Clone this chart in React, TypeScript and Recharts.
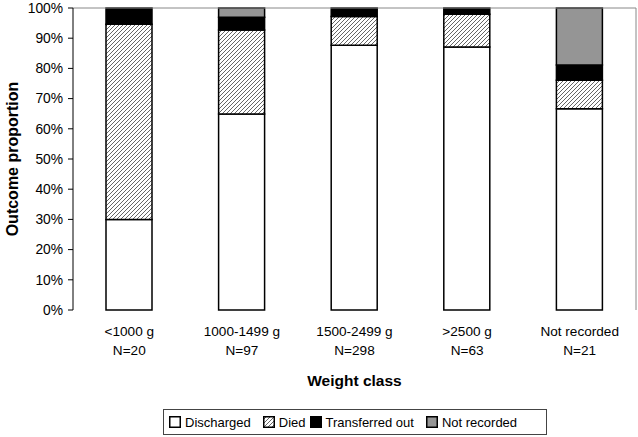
import React from "react";
import {
  Bar,
  BarChart,
  Legend,
  ReferenceLine,
  XAxis,
  YAxis,
} from "recharts";

const categories = ["<1000 g", "1000-1499 g", "1500-2499 g", ">2500 g", "Not recorded"];
const sampleSizes = [20, 97, 298, 63, 21];
const discharged = [30, 64.9, 87.7, 87.1, 66.6];
const died = [64.6, 27.8, 9.5, 10.8, 9.5];
const transferred = [5.4, 4.2, 2.8, 2.1, 5];
const notRecorded = [0, 3.1, 0, 0, 18.9];
const yTicks = [0, 10, 20, 30, 40, 50, 60, 70, 80, 90, 100];

const series = [
  { key: "discharged", name: "Discharged", fill: "#ffffff" },
  { key: "died", name: "Died", fill: "url(#hatch)" },
  { key: "transferred", name: "Transferred out", fill: "#000000" },
  { key: "notRecorded", name: "Not recorded", fill: "#959595" },
];

const data = categories.map((label, i) => ({
  label,
  n: sampleSizes[i],
  discharged: discharged[i],
  died: died[i],
  transferred: transferred[i],
  notRecorded: notRecorded[i],
}));

const FONT = '"Liberation Sans", Arial, sans-serif';

function CategoryTick({ x, y, payload, index }: any) {
  return (
    <g transform={`translate(${x},${y})`}>
      <text x={0} y={18} textAnchor="middle" fontSize={13.6} fill="#000" fontFamily={FONT}>
        {payload.value}
      </text>
      <text x={0} y={37} textAnchor="middle" fontSize={13.6} fill="#000" fontFamily={FONT}>
        N={sampleSizes[index]}
      </text>
    </g>
  );
}

function LegendBox() {
  return (
    <div
      style={{
        display: "flex",
        alignItems: "center",
        border: "1px solid #444",
        height: 26,
        padding: "0 5px",
        fontFamily: FONT,
        fontSize: 13,
        color: "#000",
        boxSizing: "border-box",
        background: "#fff",
      }}
    >
      {series.map((s, i) => (
        <div key={s.key} style={{ display: "flex", alignItems: "center", marginRight: i === 1 ? 4 : 12 }}>
          <svg width={12} height={12} style={{ marginRight: 4 }}>
            <rect x={0.75} y={0.75} width={10.5} height={10.5} fill={s.fill} stroke="#000" strokeWidth={1.5} />
          </svg>
          <span>{s.name}</span>
        </div>
      ))}
    </div>
  );
}

export default function App() {
  return (
    <div style={{ position: "absolute", left: 0, top: 0, background: "#fff" }}>
      <BarChart
        width={638}
        height={437}
        data={data}
        margin={{ top: 8, right: 0, left: 0, bottom: 0 }}
        barSize={46}
      >
        <defs>
          <pattern id="hatch" patternUnits="userSpaceOnUse" width={4} height={4}>
            <rect width={4} height={4} fill="#fff" />
            <path d="M-1,1 l2,-2 M0,4 l4,-4 M3,5 l2,-2" stroke="#555" strokeWidth={0.9} />
          </pattern>
        </defs>
        <XAxis
          xAxisId="edge"
          type="number"
          domain={[0, categories.length]}
          ticks={categories.map((_, i) => i).concat(categories.length)}
          allowDataOverflow
          height={0}
          stroke="#000"
          tickSize={5}
          tickFormatter={() => ""}
        />
        <XAxis
          xAxisId="cat"
          dataKey="label"
          height={101}
          axisLine={false}
          tickLine={false}
          interval={0}
          tick={<CategoryTick />}
          label={{
            value: "Weight class",
            position: "insideBottom",
            offset: 25,
            style: { fontSize: 15.5, fontWeight: "bold", fill: "#000", fontFamily: FONT },
          }}
        />
        <YAxis
          yAxisId="left"
          domain={[0, 100]}
          ticks={yTicks}
          width={73}
          stroke="#000"
          tickSize={5}
          tickMargin={5}
          tick={{ fontSize: 13.8, fill: "#000", fontFamily: FONT }}
          tickFormatter={(v) => `${v}%`}
          label={{
            value: "Outcome proportion",
            angle: -90,
            position: "insideLeft",
            offset: 12,
            style: { fontSize: 16, fontWeight: "bold", fill: "#000", fontFamily: FONT, textAnchor: "middle" },
          }}
        />
        <YAxis yAxisId="right" orientation="right" width={2} tick={false} tickLine={false} stroke="#888" />
        <ReferenceLine xAxisId="cat" yAxisId="left" y={100} stroke="#888" />
        <Legend
          verticalAlign="bottom"
          content={<LegendBox />}
          wrapperStyle={{ position: "absolute", left: 163, top: 409, width: 384 }}
        />
        {series.map((s) => (
          <Bar
            key={s.key}
            xAxisId="cat"
            yAxisId="left"
            dataKey={s.key}
            name={s.name}
            stackId="a"
            fill={s.fill}
            stroke="#000"
            strokeWidth={1.5}
            isAnimationActive={false}
          />
        ))}
      </BarChart>
    </div>
  );
}
